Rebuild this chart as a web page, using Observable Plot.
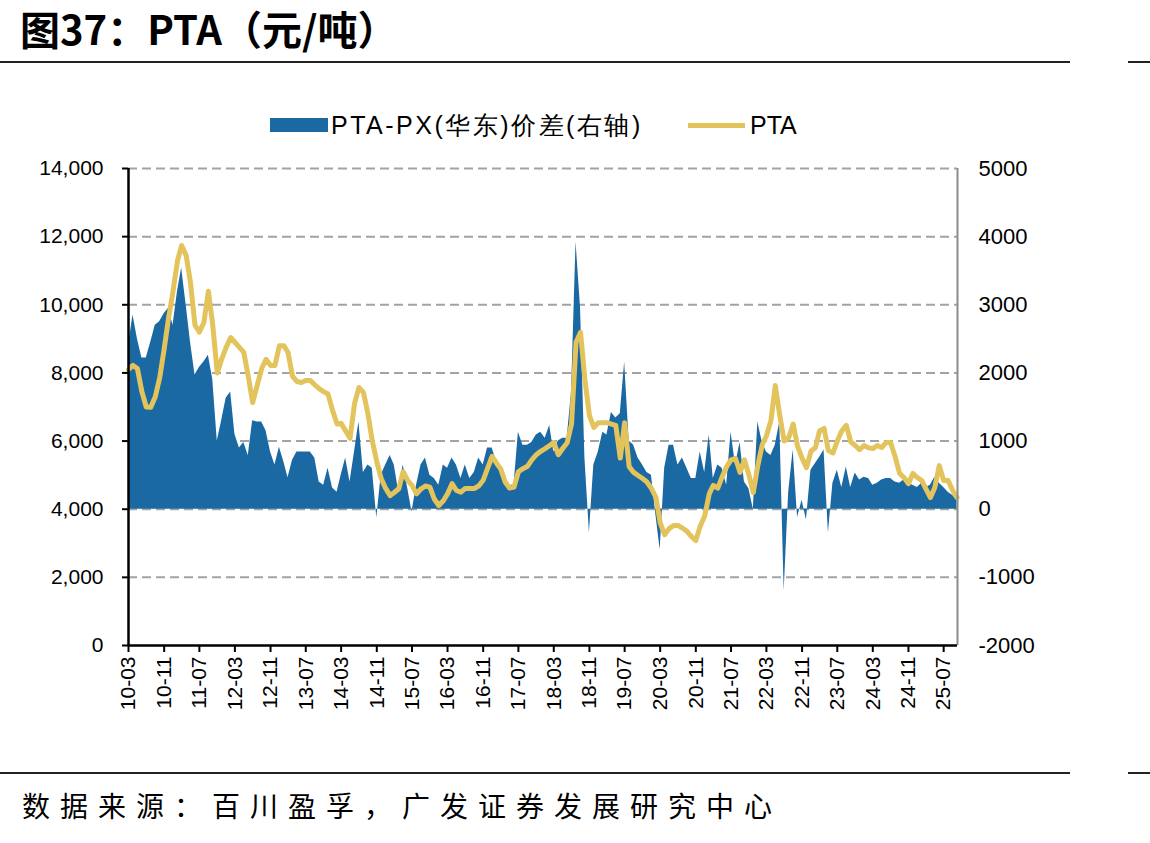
<!DOCTYPE html>
<html><head><meta charset="utf-8">
<script src="https://cdn.jsdelivr.net/npm/d3@7"></script>
<script src="https://cdn.jsdelivr.net/npm/@observablehq/plot@0.6"></script>
<style>
body{margin:0;background:#fff;}
#wrap{position:relative;width:1150px;height:843px;overflow:hidden;background:#fff;font-family:"Liberation Sans",Arial,sans-serif;}
#title{position:absolute;left:20px;top:2px;font-family:"Noto Sans CJK SC",sans-serif;font-weight:700;font-size:40px;line-height:52px;color:#000;white-space:nowrap;}
.rule{position:absolute;height:2px;background:#222;}
#legend{position:absolute;top:110px;left:0;width:1150px;height:30px;font-size:25px;color:#000;}
.lg{position:absolute;white-space:nowrap;line-height:30px;top:0;}
#source{position:absolute;left:22px;top:785px;font-family:"Noto Sans CJK SC",sans-serif;font-size:28px;letter-spacing:10px;line-height:40px;color:#000;white-space:nowrap;}
#chart{position:absolute;left:0;top:140px;}
</style></head><body>
<div id="wrap">
  <div id="title">图37：PTA（元/吨）</div>
  <div class="rule" style="top:61px;left:0;width:1070px;"></div>
  <div class="rule" style="top:61px;left:1128px;width:22px;"></div>
  <div id="legend">
    <div style="position:absolute;left:270px;top:8px;width:58px;height:14px;background:#1b69a3;"></div>
    <div class="lg" style="left:331px;letter-spacing:2.5px;">PTA-PX(华东)价差(右轴)</div>
    <div style="position:absolute;left:688px;top:13px;width:57px;height:5px;background:#e3c35b;"></div>
    <div class="lg" style="left:750px;">PTA</div>
  </div>
  <div id="chart"></div>
  <div class="rule" style="top:772px;left:0;width:1070px;"></div>
  <div class="rule" style="top:772px;left:1128px;width:22px;"></div>
  <div id="source">数据来源：百川盈孚，广发证券发展研究中心</div>
</div>
<script>
// Monthly series, March 2010 to October 2025
const firstMonth = "2010-03";
const lastMonth = "2025-10";

// PTA price (元/吨, left axis)
const ptaValues = [
  8100, 8220, 8130, 7450, 7000, 6990, 7300, 7850, 8700, 9600,
  10400, 11300, 11740, 11450, 10650, 9400, 9200, 9480, 10400, 9400,
  8000, 8400, 8750, 9040, 8900, 8750, 8600, 7900, 7130, 7630,
  8130, 8400, 8220, 8220, 8800, 8800, 8600, 7900, 7750, 7720,
  7780, 7780, 7650, 7540, 7450, 7380, 6900, 6500, 6520, 6300,
  6080, 7100, 7570, 7430, 6800, 6000, 5400, 4900, 4610, 4400,
  4490, 4600, 5100, 4850, 4700, 4450, 4600, 4680, 4650, 4300,
  4110, 4250, 4450, 4750, 4550, 4500, 4610, 4610, 4610, 4680,
  4850, 5200, 5550, 5350, 5190, 4800, 4620, 4650, 5100, 5190,
  5260, 5450, 5600, 5700, 5780, 5870, 5960, 5600, 5780, 5950,
  6500, 8900, 9190, 7800, 6750, 6400, 6540, 6540, 6540, 6500,
  6460, 5500, 6540, 5250, 5080, 4990, 4900, 4800, 4610, 4350,
  3600, 3250, 3430, 3520, 3520, 3450, 3350, 3200, 3080, 3500,
  3800, 4450, 4700, 4620, 4950, 5250, 5450, 5490, 5080, 5450,
  5000, 4490, 5280, 5900, 6150, 6600, 7630, 6750, 6000, 6100,
  6500, 5850, 5500, 5220, 5700, 5810, 6300, 6370, 5720, 5650,
  6000, 6300, 6460, 5980, 5870, 5750, 5870, 5800, 5780, 5870,
  5810, 5960, 5960, 5550, 5050, 4930, 4750, 5050, 4930, 4840,
  4600, 4340, 4640, 5280, 4840, 4840, 4550, 4340
];

// PTA-PX (华东) spread (元/吨, right axis)
const spreadValues = [
  2400, 2850, 2500, 2220, 2220, 2450, 2700, 2750, 2870, 2950,
  2700, 3200, 3540, 3000, 2450, 1970, 2080, 2160, 2260, 1900,
  1000, 1300, 1630, 1720, 1100, 900, 980, 790, 1300, 1280,
  1280, 1150, 840, 650, 910, 690, 460, 720, 840, 840,
  840, 840, 750, 400, 350, 600, 310, 250, 500, 750,
  400, 840, 1280, 540, 650, 600, -130, 500, 650, 790,
  650, 250, 650, 310, -40, 350, 650, 750, 500, 450,
  350, 650, 600, 750, 650, 450, 650, 450, 540, 750,
  650, 900, 900, 700, 540, 400, 350, 350, 1130, 940,
  940, 980, 1090, 1130, 1040, 1230, 840, 1000, 1040, 1040,
  1720, 3920, 2950, 750, -350, 650, 840, 1130, 1090, 1420,
  1340, 1400, 2160, 1000, 940, 750, 650, 540, 500, -90,
  -600, 600, 940, 940, 650, 750, 600, 450, 450, 840,
  540, 1090, 450, 650, 600, 350, 1130, 650, 980, 400,
  300, 0, 1280, 980, 840, 790, 940, 1280, -1200, 250,
  870, -120, 130, -160, 570, 670, 760, 870, -350, 380,
  570, 320, 620, 320, 530, 430, 470, 450, 350, 380,
  430, 450, 450, 400, 380, 430, 380, 350, 320, 380,
  320, 350, 470, 380, 320, 250, 200, 130
];

const xTickLabels = ["10-03","10-11","11-07","12-03","12-11","13-07","14-03","14-11","15-07","16-03","16-11","17-07",
  "18-03","18-11","19-07","20-03","20-11","21-07","22-03","22-11","23-07","24-03","24-11","25-07"];
const leftTicks = [0, 2000, 4000, 6000, 8000, 10000, 12000, 14000];
const rightTickLabels = ["-2000", "-1000", "0", "1000", "2000", "3000", "4000", "5000"];

const parseYM = s => { const [y, m] = s.split("-").map(Number); return new Date(Date.UTC(y, m - 1, 1)); };
const parseShort = s => { const [y, m] = s.split("-").map(Number); return new Date(Date.UTC(2000 + y, m - 1, 1)); };

const start = parseYM(firstMonth);
const end = parseYM(lastMonth);
const months = d3.utcMonth.range(start, d3.utcMonth.offset(end, 1));
const data = months.map((date, i) => ({date, pta: ptaValues[i], spread: spreadValues[i]}));

const tickDates = xTickLabels.map(parseShort);
const labelByTime = new Map(tickDates.map((d, i) => [+d, xTickLabels[i]]));
const domainEnd = d3.utcDay.offset(end, 3);

// right axis: spread value s plotted at 4000 + 2*s on the left scale
const toLeft = s => 4000 + 2 * s;

const chart = Plot.plot({
  width: 1150,
  height: 620,
  marginTop: 28,
  marginBottom: 115,
  marginLeft: 128,
  marginRight: 193,
  x: {type: "utc", domain: [start, domainEnd]},
  y: {domain: [0, 14000]},
  style: {fontFamily: "'Liberation Sans', Arial, sans-serif", fontSize: "21px", color: "#000", background: "transparent", overflow: "visible"},
  marks: [
    Plot.ruleY(leftTicks.slice(1), {stroke: "#a3a3a3", strokeWidth: 2, strokeDasharray: "9,5"}),
    Plot.areaY(data, {x: "date", y1: 4000, y2: d => toLeft(d.spread), fill: "#1b69a3", curve: "linear"}),
    Plot.lineY(data, {x: "date", y: "pta", stroke: "#e3c35b", strokeWidth: 5, strokeLinejoin: "round", strokeLinecap: "round"}),
    Plot.ruleX([domainEnd], {stroke: "#8c8c8c", strokeWidth: 2}),
    Plot.ruleX([start], {stroke: "#000", strokeWidth: 2.5}),
    Plot.ruleY([0], {stroke: "#000", strokeWidth: 2.5}),
    Plot.axisY({anchor: "left", ticks: leftTicks, tickFormat: d3.format(","), tickSize: 6, tickPadding: 19, strokeWidth: 2, fontSize: 21, label: null}),
    Plot.axisY({anchor: "right", ticks: leftTicks, tickFormat: v => rightTickLabels[leftTicks.indexOf(v)], tickSize: 0, tickPadding: 21, fontSize: 22, label: null}),
    Plot.axisX({ticks: tickDates, tickFormat: d => labelByTime.get(+d), tickRotate: -90, tickSize: 7, tickPadding: 4, strokeWidth: 2, fontSize: 21, label: null})
  ]
});
document.getElementById("chart").appendChild(chart);
</script>
</body></html>
